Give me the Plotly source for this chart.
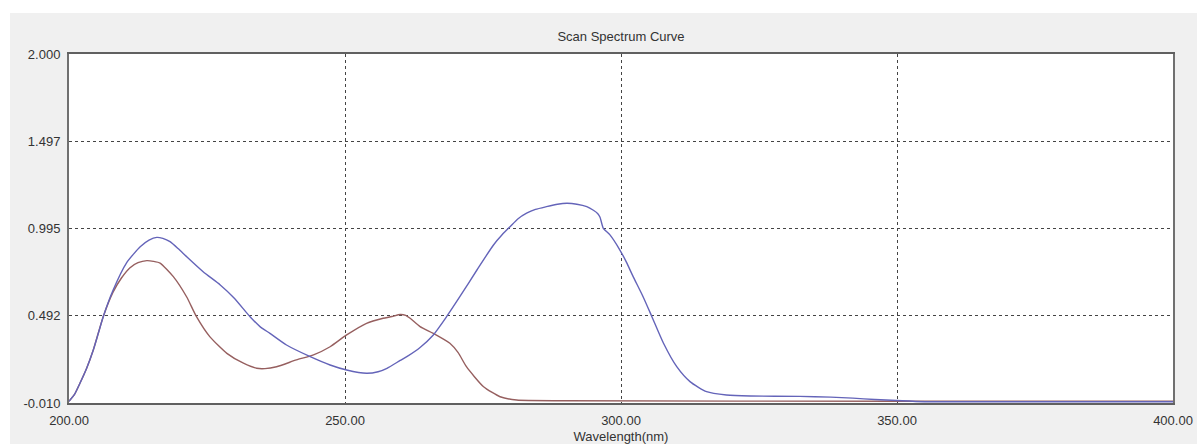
import plotly.graph_objects as go

# Blue curve (wavelength nm, absorbance)
blue_wavelength = [200.0, 201.0, 202.0, 203.2, 204.4, 205.3, 206.2, 208.0, 210.4, 212.9, 214.5, 215.9,
                   217.0, 218.3, 219.8, 221.3, 224.3, 227.4, 229.9, 232.8, 234.6, 236.4, 239.4, 243.7,
                   247.3, 250.3, 253.9, 256.0, 257.6, 260.0, 261.2, 263.6, 266.0, 268.4, 270.8, 273.9,
                   276.9, 278.5, 279.9, 281.3, 282.9, 284.5, 286.5, 288.5, 290.2, 292.0, 293.8, 295.0,
                   295.8, 296.2, 296.8, 298.0, 299.8, 301.0, 302.2, 304.0, 305.6, 307.7, 310.1, 312.5,
                   315.5, 319.1, 323.4, 332.4, 338.0, 342.0, 346.0, 350.0, 355.0, 400.0]
blue_absorbance = [0.000, 0.040, 0.105, 0.190, 0.295, 0.390, 0.487, 0.641, 0.796, 0.890, 0.928, 0.944,
                   0.938, 0.919, 0.878, 0.833, 0.746, 0.670, 0.595, 0.487, 0.430, 0.391, 0.324, 0.257,
                   0.209, 0.180, 0.161, 0.170, 0.190, 0.235, 0.257, 0.310, 0.382, 0.487, 0.602, 0.756,
                   0.900, 0.960, 1.005, 1.050, 1.083, 1.105, 1.121, 1.135, 1.140, 1.135, 1.121, 1.100,
                   1.080, 1.060, 0.996, 0.958, 0.871, 0.800, 0.718, 0.602, 0.487, 0.334, 0.199, 0.113,
                   0.055, 0.036, 0.030, 0.028, 0.024, 0.018, 0.010, 0.004, -0.003, -0.003]

# Brown curve
brown_wavelength = [200.0, 201.0, 202.0, 203.2, 204.4, 206.2, 208.0, 209.5, 211.0, 212.5, 214.1, 215.3,
                    216.5, 218.9, 221.3, 223.1, 225.5, 228.6, 231.6, 234.0, 235.5, 237.6, 241.2, 244.3,
                    247.3, 250.3, 253.9, 256.9, 258.5, 260.0, 261.0, 261.8, 263.6, 266.0, 269.0, 270.5,
                    272.0, 275.1, 278.1, 281.1, 290.0, 350.0, 400.0]
brown_absorbance = [0.000, 0.040, 0.105, 0.190, 0.295, 0.487, 0.630, 0.710, 0.768, 0.798, 0.810, 0.806,
                    0.796, 0.718, 0.602, 0.487, 0.372, 0.276, 0.219, 0.190, 0.188, 0.199, 0.238, 0.267,
                    0.314, 0.382, 0.449, 0.478, 0.488, 0.500, 0.495, 0.478, 0.430, 0.391, 0.334, 0.280,
                    0.199, 0.084, 0.026, 0.007, 0.003, 0.000, 0.000]

x_ticks = [200, 250, 300, 350, 400]
x_tick_labels = ["200.00", "250.00", "300.00", "350.00", "400.00"]
y_ticks = [-0.010, 0.492, 0.995, 1.497, 2.000]
y_tick_labels = ["-0.010", "0.492", "0.995", "1.497", "2.000"]

FONT = "Liberation Sans, Arial, sans-serif"

W, H = 1197, 444
L, T = 69, 54
PW, PH = 1104, 349
R = W - L - PW
B = H - T - PH

fig = go.Figure()
fig.add_trace(go.Scatter(x=brown_wavelength, y=brown_absorbance, mode="lines",
                         line=dict(color="rgb(150,95,95)", width=1.4, shape="spline", smoothing=0.6),
                         showlegend=False))
fig.add_trace(go.Scatter(x=blue_wavelength, y=blue_absorbance, mode="lines",
                         line=dict(color="rgb(100,100,185)", width=1.4, shape="spline", smoothing=0.6),
                         showlegend=False))

fig.update_layout(
    width=W, height=H,
    margin=dict(l=L, r=R, t=T, b=B, pad=0, autoexpand=False),
    paper_bgcolor="#f0f0f0",
    plot_bgcolor="white",
    font=dict(family=FONT, size=13, color="#333333"),
    title=dict(text="Scan Spectrum Curve", x=0.5, xref="paper", xanchor="center",
               y=1 - 36 / H, yanchor="middle", font=dict(family=FONT, size=13, color="#333333")),
    showlegend=False,
    shapes=[
        dict(type="rect", xref="paper", yref="paper", x0=-L / PW, x1=1 + R / PW,
             y0=1 + (T - 13) / PH, y1=1 + T / PH, fillcolor="white", line=dict(width=0), layer="below"),
        dict(type="rect", xref="paper", yref="paper", x0=-L / PW, x1=-(L - 10) / PW,
             y0=-B / PH, y1=1 + T / PH, fillcolor="white", line=dict(width=0), layer="below"),
    ],
)

fig.update_xaxes(
    range=[200, 400], tickvals=x_ticks, ticktext=x_tick_labels,
    showgrid=True, gridcolor="#444444", griddash="3px,3px", gridwidth=1,
    showline=True, linecolor="#606060", linewidth=2, mirror=True,
    ticks="", zeroline=False, automargin=False, ticklabelstandoff=4,
    title=dict(text="Wavelength(nm)", standoff=6, font=dict(family=FONT, size=13, color="#333333")),
)
fig.update_yaxes(
    range=[-0.010, 2.000], tickvals=y_ticks, ticktext=y_tick_labels,
    showgrid=True, gridcolor="#444444", griddash="3px,3px", gridwidth=1,
    showline=True, linecolor="#707070", linewidth=2, mirror=True,
    ticks="", zeroline=False, ticklabelstandoff=4, automargin=False,
)

fig.write_html("out.html", config={"displayModeBar": False},
               post_script="document.body.style.margin='0px';document.body.style.overflow='hidden';")
